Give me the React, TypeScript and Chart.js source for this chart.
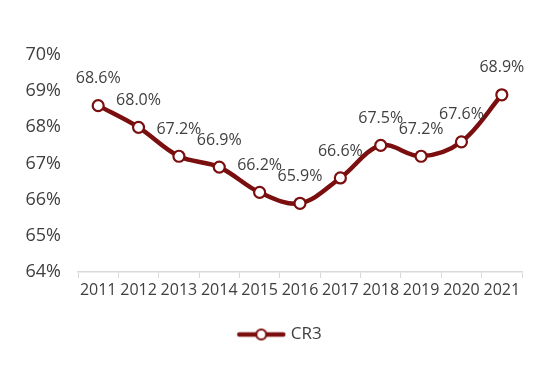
import React, { useEffect, useRef } from "react";
import { Chart, registerables } from "chart.js";

Chart.register(...registerables);

const years = ["2011", "2012", "2013", "2014", "2015", "2016", "2017", "2018", "2019", "2020", "2021"];
const cr3 = [68.6, 68.0, 67.2, 66.9, 66.2, 65.9, 66.6, 67.5, 67.2, 67.6, 68.9];
const seriesName = "CR3";
const yMin = 64;
const yMax = 70;

const LINE = "#7B0E0E";
const FONT = "'Open Sans', sans-serif";

const dataLabelPlugin = {
  id: "dataLabels",
  afterDatasetsDraw(chart: any) {
    const ctx = chart.ctx;
    const meta = chart.getDatasetMeta(0);
    const ds = chart.data.datasets[0];
    ctx.save();
    ctx.font = `16px ${FONT}`;
    ctx.fillStyle = "#404040";
    ctx.textAlign = "center";
    ctx.textBaseline = "middle";
    meta.data.forEach((pt: any, i: number) => {
      ctx.fillText(ds.data[i].toFixed(1) + "%", pt.x, pt.y - 27);
    });
    ctx.restore();
  },
};

const legendShiftPlugin = {
  id: "legendShift",
  afterLayout(chart: any) {
    if (chart.legend) {
      chart.legend.left += 40;
    }
  },
};

function makeLegendIcon(): HTMLCanvasElement {
  const c = document.createElement("canvas");
  c.width = 50;
  c.height = 14;
  const g = c.getContext("2d")!;
  g.strokeStyle = LINE;
  g.lineWidth = 4.5;
  g.lineCap = "round";
  g.beginPath();
  g.moveTo(3, 7);
  g.lineTo(47, 7);
  g.stroke();
  g.beginPath();
  g.arc(25, 7, 5, 0, Math.PI * 2);
  g.fillStyle = "#ffffff";
  g.fill();
  g.lineWidth = 2.2;
  g.stroke();
  return c;
}

export default function App() {
  const ref = useRef<HTMLCanvasElement>(null);
  useEffect(() => {
    document.body.style.margin = "0";
    const icon = makeLegendIcon();
    const chart = new Chart(ref.current!, {
      type: "line",
      data: {
        labels: years,
        datasets: [
          {
            label: seriesName,
            data: cr3,
            borderColor: LINE,
            borderWidth: 4.5,
            tension: 0.35,
            pointRadius: 5.5,
            pointBorderWidth: 2.2,
            pointBackgroundColor: "#ffffff",
            pointBorderColor: LINE,
            fill: false,
          },
        ],
      },
      options: {
        animation: false,
        responsive: false,
        maintainAspectRatio: false,
        layout: { padding: { left: 0, right: 28, top: 55, bottom: 14 } },
        scales: {
          x: {
            offset: true,
            grid: {
              display: true,
              drawOnChartArea: false,
              drawTicks: true,
              tickLength: 6,
              color: "#d9d9d9",
              offset: true,
            },
            border: { display: true, color: "#d9d9d9", width: 1.5 },
            ticks: { color: "#404040", font: { family: FONT, size: 16 }, padding: 3, maxRotation: 0, autoSkip: false },
            afterFit: (s: any) => {
              s.height = 42;
            },
          },
          y: {
            min: yMin,
            max: yMax,
            grid: { display: false, drawTicks: false },
            border: { display: false },
            ticks: {
              stepSize: 1,
              color: "#404040",
              font: { family: FONT, size: 18 },
              padding: 17,
              callback: (v: any) => v + "%",
            },
            afterFit: (s: any) => {
              s.width = 78;
            },
          },
        },
        plugins: {
          tooltip: { enabled: false },
          legend: {
            display: true,
            position: "bottom",
            labels: {
              usePointStyle: true,
              pointStyleWidth: 42,
              padding: 12,
              color: "#404040",
              font: { family: FONT, size: 17 },
              generateLabels: () => [
                {
                  text: seriesName,
                  pointStyle: icon,
                  fillStyle: LINE,
                  strokeStyle: LINE,
                  lineWidth: 0,
                  hidden: false,
                  datasetIndex: 0,
                  fontColor: "#404040",
                } as any,
              ],
            },
          },
        },
      },
      plugins: [dataLabelPlugin, legendShiftPlugin],
    });
    return () => chart.destroy();
  }, []);
  return (
    <div style={{ width: 550, height: 367, background: "#fff" }}>
      <canvas ref={ref} width={550} height={367} />
    </div>
  );
}
